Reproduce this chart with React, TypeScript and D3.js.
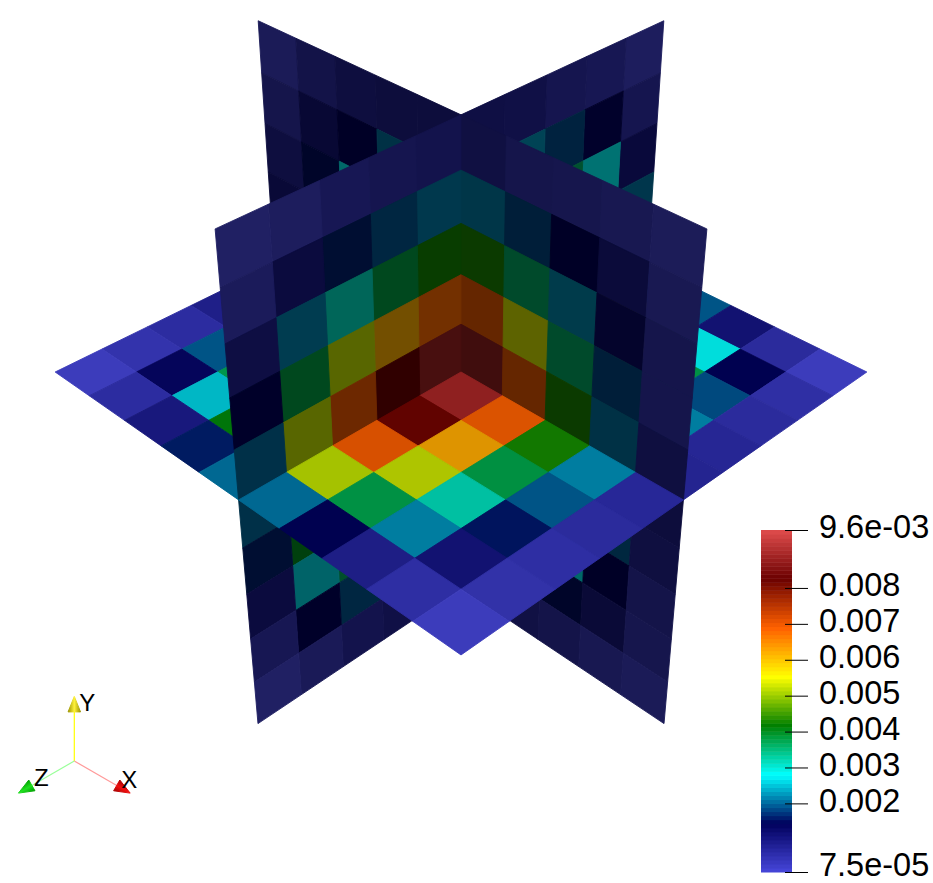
import React from 'react'
import * as d3 from 'd3'

const width = 933
const height = 883

// values in units of 1e-3, read off the colours of the slices
// sliceZ: plane z=0, rows from top (y=+1) to bottom, columns x=-1 to x=+1
const sliceZ = [
  [0.15, 0.55, 0.78, 0.85, 0.85, 0.69, 0.45, 0.42, 0.3, 0.12],
  [0.45, 1.07, 1.44, 2.07, 2.5, 2.13, 1.82, 1.44, 0.9, 0.27],
  [0.78, 1.5, 2.8, 4.0, 4.5, 4.3, 3.6, 2.2, 1.27, 0.47],
  [1.0, 2.0, 3.7, 5.4, 7.0, 6.95, 5.37, 3.6, 1.82, 0.47],
  [1.0, 2.0, 4.0, 7.0, 8.8, 8.8, 6.95, 4.3, 2.07, 0.75],
  [1.0, 2.0, 4.0, 6.5, 8.5, 8.8, 7.0, 4.0, 2.0, 0.85],
  [0.9, 1.8, 3.6, 5.0, 6.8, 7.0, 5.0, 3.7, 1.94, 0.75],
  [0.7, 1.4, 2.6, 3.6, 4.2, 4.4, 3.8, 2.8, 1.44, 0.5],
  [0.4, 1.0, 1.5, 2.0, 2.3, 2.4, 2.0, 1.5, 0.98, 0.4],
  [0.12, 0.3, 0.5, 0.65, 0.8, 0.8, 0.65, 0.5, 0.3, 0.15],
]

// sliceX: plane x=0, rows from top to bottom, columns z=-1 to z=+1
const sliceX = [
  [0.2, 0.45, 0.55, 0.75, 0.8, 0.62, 0.55, 0.43, 0.2, 0.08],
  [0.55, 1.4, 1.84, 2.23, 2.5, 2.1, 1.88, 1.6, 0.95, 0.27],
  [1.03, 2.8, 3.6, 4.2, 4.5, 4.25, 3.8, 3.1, 2.15, 0.83],
  [2.07, 3.8, 5.2, 6.2, 7.0, 6.8, 6.2, 5.2, 3.8, 1.44],
  [2.1, 4.0, 6.0, 7.5, 8.8, 8.85, 8.24, 7.0, 5.2, 2.0],
  [2.0, 4.0, 6.0, 7.5, 8.8, 8.8, 8.0, 6.8, 4.3, 2.0],
  [1.6, 3.8, 5.0, 6.2, 7.0, 7.0, 6.5, 5.5, 4.0, 1.6],
  [1.0, 2.6, 3.6, 4.2, 4.6, 4.5, 4.2, 3.65, 2.6, 0.95],
  [0.5, 1.4, 1.8, 2.2, 2.4, 2.4, 2.1, 1.88, 1.44, 0.45],
  [0.1, 0.35, 0.6, 0.75, 0.85, 0.85, 0.75, 0.62, 0.35, 0.08],
]

// sliceY: plane y=0, rows z=-1 to z=+1, columns x=-1 to x=+1
const sliceY = [
  [0.1, 0.4, 0.8, 1.4, 2.2, 2.5, 1.95, 1.03, 0.5, 0.12],
  [0.4, 1.2, 2.5, 3.8, 5.0, 5.2, 4.3, 2.8, 1.44, 0.4],
  [0.6, 2.0, 3.6, 5.2, 6.2, 6.4, 5.4, 3.74, 1.88, 0.5],
  [0.8, 2.0, 4.0, 5.8, 7.2, 7.4, 6.0, 4.0, 2.2, 0.6],
  [1.2, 2.2, 4.2, 6.6, 8.6, 8.9, 6.9, 4.3, 2.2, 0.65],
  [1.2, 2.1, 4.0, 6.5, 8.5, 8.9, 6.9, 4.27, 2.2, 0.57],
  [0.75, 1.7, 3.8, 5.8, 7.8, 8.2, 6.25, 3.76, 1.95, 0.5],
  [0.45, 1.95, 3.7, 5.3, 6.5, 6.95, 5.22, 3.16, 1.56, 0.42],
  [0.3, 1.32, 2.55, 4.1, 4.9, 5.17, 3.74, 2.2, 1.03, 0.35],
  [0.12, 0.45, 0.9, 1.6, 2.07, 2.07, 1.44, 0.78, 0.42, 0.12],
]

const unit = 1e-3
const valueMin = 7.5e-5
const valueMax = 9.6e-3
const ticks = [0.002, 0.003, 0.004, 0.005, 0.006, 0.007, 0.008]
const endLabels = ['7.5e-05', '9.6e-03']

// ParaView "rainbow desaturated"
const mapStops = [0, 0.143, 0.285, 0.429, 0.571, 0.714, 0.857, 1]
const mapColors = ['#4747db', '#00005c', '#00ffff', '#008000', '#ffff00', '#ff6100', '#6b0000', '#e04c4c']

const color = d3
  .scaleLinear<string>()
  .domain(mapStops.map(t => valueMin + t * (valueMax - valueMin)))
  .range(mapColors)
  .interpolate(d3.interpolateRgb)
  .clamp(true)

// camera looking at the origin from (+,+,+)
const sinE = 0.575
const cosE = 0.818
const dist = 6.6
const focal = 1894
const cx = 461
const cy = 372
const SQ = Math.SQRT1_2

type P3 = [number, number, number]

const project = ([x, y, z]: P3): [number, number] => {
  const right = (x - z) * SQ
  const up = y * cosE - (x + z) * SQ * sinE
  const toward = (x + z) * SQ * cosE + y * sinE
  const s = focal / (dist - toward)
  return [cx + right * s, cy - up * s]
}

const grid = d3.scaleLinear().domain([0, 10]).range([-1, 1])
const polygon = d3.line()

// the planes cut the volume into quadrants, far ones are painted first
const buildCells = () => {
  const cells: { d: string; fill: string; rank: number }[] = []
  const add = (values: number[][], shade: number, place: (a: number, b: number) => P3, rankOf: (r: number, c: number) => number) => {
    values.forEach((row, r) =>
      row.forEach((v, c) => {
        const corners: P3[] = [place(c, r), place(c + 1, r), place(c + 1, r + 1), place(c, r + 1)]
        const base = d3.rgb(color(v * unit))
        const fill = d3.rgb(base.r * shade, base.g * shade, base.b * shade).formatRgb()
        cells.push({ d: polygon(corners.map(project)) + 'Z', fill, rank: rankOf(r, c) })
      }),
    )
  }
  add(sliceZ, 0.41, (c, r) => [grid(c), grid(10 - r), 0], (r, c) => +(c >= 5) + +(r < 5))
  add(sliceX, 0.45, (c, r) => [0, grid(10 - r), grid(c)], (r, c) => +(c >= 5) + +(r < 5))
  add(sliceY, 0.87, (c, r) => [grid(c), 0, grid(r)], (r, c) => +(c >= 5) + +(r >= 5))
  return d3.sort(cells, d => d.rank)
}

const barY = d3.scaleLinear().domain([valueMin, valueMax]).range([872, 530])
const tickY = d3.scaleLinear().domain([valueMin, valueMax]).range([873, 531])
const bands = d3.range(85)

// orientation widget
const widgetOrigin: [number, number] = [74.3, 761]
const axes = [
  { name: 'Y', dir: [0, 1, 0] as P3, line: '#ffff00', light: '#fff23a', dark: '#9c9400', dx: 13, dy: -50 },
  { name: 'X', dir: [1, 0, 0] as P3, line: '#ff9a9a', light: '#f01010', dark: '#a80000', dx: 55, dy: 27 },
  { name: 'Z', dir: [0, 0, 1] as P3, line: '#9aff9a', light: '#20e020', dark: '#00a000', dx: -33, dy: 25 },
]
const shaftLength = 60
const tipLength = 79
const coneRadius = 6.2

const widgetPoint = (dir: P3, len: number): [number, number] => {
  const [x, y, z] = dir
  const right = (x - z) * SQ
  const up = y * cosE - (x + z) * SQ * sinE
  return [widgetOrigin[0] + right * len, widgetOrigin[1] - up * len]
}

const App = () => {
  const cells = buildCells()
  const font = '"Liberation Sans", Arial, sans-serif'
  return (
    <svg width={width} height={height} style={{ position: 'absolute', left: 0, top: 0, display: 'block' }}>
      <rect width={width} height={height} fill="#ffffff" />
      <g>
        {cells.map((c, i) => (
          <path key={i} d={c.d} fill={c.fill} stroke={c.fill} strokeWidth={0.9} strokeLinejoin="round" />
        ))}
      </g>

      <g>
        {bands.map(i => {
          const v0 = valueMin + (i / bands.length) * (valueMax - valueMin)
          const v1 = valueMin + ((i + 1) / bands.length) * (valueMax - valueMin)
          return (
            <rect key={i} x={761} width={31} y={barY(v1)} height={barY(v0) - barY(v1) + 0.5} fill={color((v0 + v1) / 2)} />
          )
        })}
        {ticks.map(t => (
          <g key={t}>
            <line x1={785} x2={808} y1={tickY(t)} y2={tickY(t)} stroke="#000" strokeWidth={1} />
            <text x={819} y={tickY(t) + 8} fontFamily={font} fontSize={32.5} fill="#000">
              {t.toFixed(3)}
            </text>
          </g>
        ))}
        {[valueMin, valueMax].map((t, i) => (
          <g key={t}>
            <line x1={785} x2={808} y1={barY(t) + 0.5} y2={barY(t) + 0.5} stroke="#000" strokeWidth={1} />
            <text x={819} y={barY(t) + (i === 0 ? 4 : 8)} fontFamily={font} fontSize={32.5} fill="#000">
              {endLabels[i]}
            </text>
          </g>
        ))}
      </g>

      <defs>
        {axes.map(a => {
          const [bx, by] = widgetPoint(a.dir, shaftLength)
          const [tx, ty] = widgetPoint(a.dir, tipLength)
          const len = Math.hypot(tx - bx, ty - by)
          const nx = -(ty - by) / len
          const ny = (tx - bx) / len
          return (
            <linearGradient
              key={a.name}
              id={`cone${a.name}`}
              gradientUnits="userSpaceOnUse"
              x1={bx - nx * coneRadius}
              y1={by - ny * coneRadius}
              x2={bx + nx * coneRadius}
              y2={by + ny * coneRadius}
            >
              <stop offset="0" stopColor={a.dark} />
              <stop offset="0.5" stopColor={a.light} />
              <stop offset="1" stopColor={a.dark} />
            </linearGradient>
          )
        })}
      </defs>
      <g>
        {axes.map(a => {
          const [bx, by] = widgetPoint(a.dir, shaftLength)
          const [tx, ty] = widgetPoint(a.dir, tipLength)
          const len = Math.hypot(tx - bx, ty - by)
          const nx = -(ty - by) / len
          const ny = (tx - bx) / len
          const cone = d3.line()([
            [tx, ty],
            [bx + nx * coneRadius, by + ny * coneRadius],
            [bx - nx * coneRadius, by - ny * coneRadius],
          ])
          return (
            <g key={a.name}>
              <line x1={widgetOrigin[0]} y1={widgetOrigin[1]} x2={bx} y2={by} stroke={a.line} strokeWidth={1.2} />
              <path d={cone + 'Z'} fill={`url(#cone${a.name})`} stroke={`url(#cone${a.name})`} strokeWidth={1} strokeLinejoin="round" />
              <text x={widgetOrigin[0] + a.dx} y={widgetOrigin[1] + a.dy} fontFamily={font} fontSize={24} fill="#000" textAnchor="middle">
                {a.name}
              </text>
            </g>
          )
        })}
      </g>
    </svg>
  )
}

export default App
